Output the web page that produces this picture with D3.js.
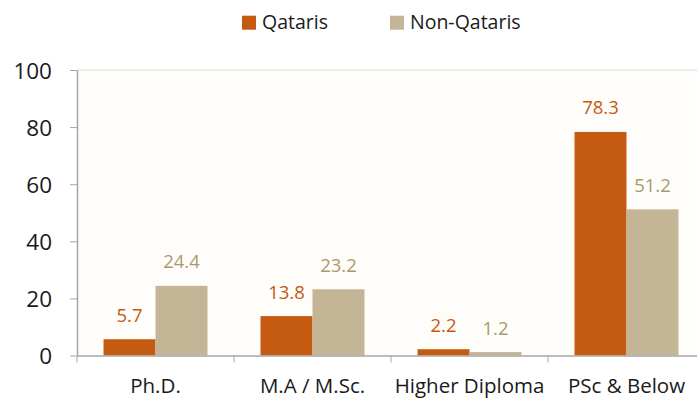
<!DOCTYPE html>
<html>
<head>
<meta charset="utf-8">
<script src="https://cdn.jsdelivr.net/npm/d3@7/dist/d3.min.js"></script>
<style>
  html, body { margin: 0; padding: 0; background: #ffffff; }
  svg { display: block; font-family: "Open Sans", sans-serif; }
</style>
</head>
<body>
<svg id="chart" width="697" height="399"></svg>
<script>
// Education level by nationality (%)
const categories = ["Ph.D.", "M.A / M.Sc.", "Higher Diploma", "PSc & Below"];
const seriesNames = ["Qataris", "Non-Qataris"];
const qatariValues = [5.7, 13.8, 2.2, 78.3];
const nonQatariValues = [24.4, 23.2, 1.2, 51.2];
const yTicks = [0, 20, 40, 60, 80, 100];

const colors = { "Qataris": "#C55A11", "Non-Qataris": "#C4B596" };
const labelColors = { "Qataris": "#C55A11", "Non-Qataris": "#A99A6E" };

const svg = d3.select("#chart");
const plot = { left: 77, right: 705, top: 70, bottom: 355.5 };

const x = d3.scaleBand().domain(categories).range([plot.left, plot.right]).padding(0);
const xs = d3.scaleBand().domain(seriesNames).range([0, x.bandwidth()]).paddingInner(0).paddingOuter(0.51);
const y = d3.scaleLinear().domain([0, 100]).range([plot.bottom, plot.top]);

// plot area background and top border
svg.append("rect")
  .attr("x", plot.left).attr("y", plot.top)
  .attr("width", plot.right - plot.left).attr("height", plot.bottom - plot.top)
  .attr("fill", "#FFFDF9");
svg.append("line")
  .attr("x1", plot.left).attr("x2", plot.right)
  .attr("y1", plot.top).attr("y2", plot.top)
  .attr("stroke", "#E6E6E6").attr("stroke-width", 1.5);

const rows = categories.map((c, i) => ({
  category: c,
  values: [
    { name: "Qataris", value: qatariValues[i] },
    { name: "Non-Qataris", value: nonQatariValues[i] }
  ]
}));

const groups = svg.append("g").selectAll("g")
  .data(rows).join("g")
  .attr("transform", d => `translate(${x(d.category)},0)`);

groups.selectAll("rect")
  .data(d => d.values).join("rect")
  .attr("x", d => xs(d.name))
  .attr("y", d => y(d.value))
  .attr("width", xs.bandwidth())
  .attr("height", d => y(0) - y(d.value))
  .attr("fill", d => colors[d.name]);

groups.selectAll("text")
  .data(d => d.values).join("text")
  .attr("x", d => xs(d.name) + xs.bandwidth() / 2)
  .attr("y", d => y(d.value) - 17.5)
  .attr("text-anchor", "middle")
  .attr("font-size", 18.5)
  .attr("fill", d => labelColors[d.name])
  .text(d => d.value.toFixed(1));

// y axis
const yAxis = svg.append("g")
  .attr("transform", `translate(${plot.left},0)`)
  .call(d3.axisLeft(y).tickValues(yTicks).tickSize(7).tickPadding(18).tickSizeOuter(0));
yAxis.select(".domain").attr("stroke", "#A6A6A6").attr("stroke-width", 1.5);
yAxis.selectAll(".tick line").attr("stroke", "#A6A6A6").attr("stroke-width", 1);
yAxis.selectAll(".tick text")
  .attr("font-family", "Open Sans, sans-serif")
  .attr("font-size", 22.5).attr("fill", "#1a1a1a").attr("dy", "0.36em");

// x axis
const xAxis = svg.append("g")
  .attr("transform", `translate(0,${plot.bottom})`)
  .call(d3.axisBottom(x).tickSize(0).tickPadding(23).tickSizeOuter(0));
xAxis.select(".domain").attr("stroke", "#A6A6A6").attr("stroke-width", 1.5);
xAxis.selectAll(".tick text")
  .attr("font-family", "Open Sans, sans-serif")
  .attr("font-size", 20.5).attr("fill", "#1a1a1a");
// category separators
xAxis.selectAll(".sep")
  .data(categories).join("line")
  .attr("class", "sep")
  .attr("x1", d => x(d)).attr("x2", d => x(d))
  .attr("y1", 0).attr("y2", 7)
  .attr("stroke", "#A6A6A6").attr("stroke-width", 1);

// legend
const legendX = [242, 390];
const legend = svg.append("g").selectAll("g")
  .data(seriesNames).join("g")
  .attr("transform", (d, i) => `translate(${legendX[i]},15.7)`);
legend.append("rect")
  .attr("width", 14).attr("height", 14)
  .attr("fill", d => colors[d]);
legend.append("text")
  .attr("x", 20).attr("y", 13.6)
  .attr("font-size", 19.5).attr("fill", "#1a1a1a")
  .text(d => d);
</script>
</body>
</html>
